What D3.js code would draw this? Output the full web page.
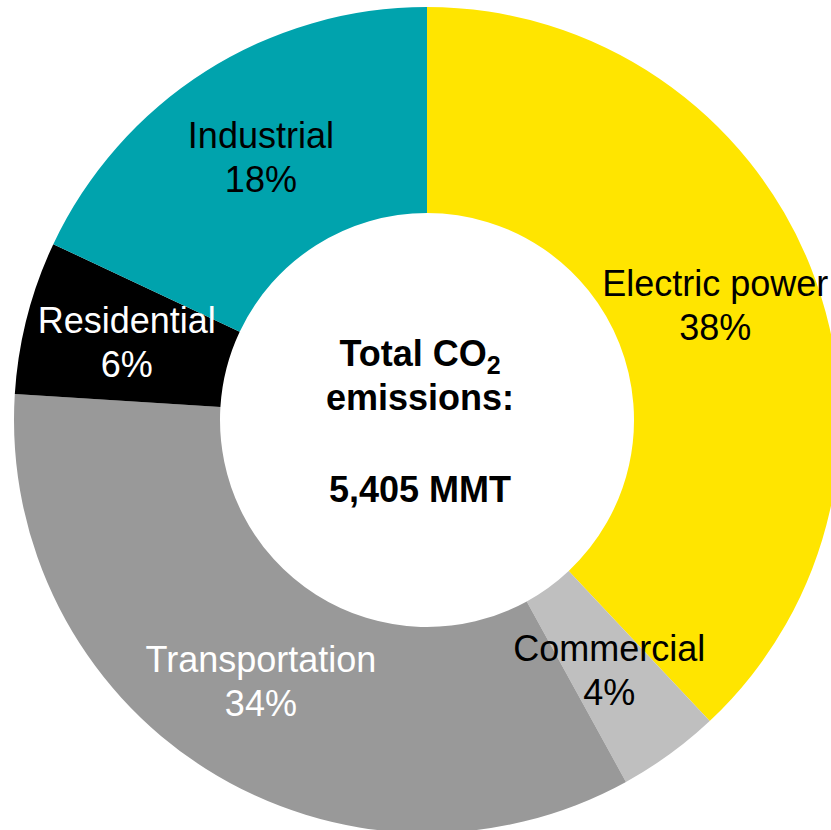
<!DOCTYPE html>
<html>
<head>
    <meta charset="UTF-8">
    <title>CO2 emissions by sector</title>
    <script src="https://d3js.org/d3.v7.min.js"></script>
    <style>
        *{
            padding:0;
            margin:0;
        }
        body{
            background:#fff;
            overflow:hidden;
        }
        text{
            font-family: "Liberation Sans", Arial, sans-serif;
        }
    </style>
</head>
<body>
    <svg id='main' width="831" height="830"></svg>
    <script>
// data, clockwise from 12 o'clock
const sectors = ["Electric power", "Commercial", "Transportation", "Residential", "Industrial"];
const shares = [38, 4, 34, 6, 18];
const colors = ["#FFE500", "#BFBFBF", "#999999", "#000000", "#00A3AD"];
const labelColors = ["#000", "#000", "#fff", "#fff", "#000"];
const totalMMT = "5,405 MMT";

const svg = d3.select("#main"),
    cx = 427,
    cy = 420,
    outerR = 413,
    innerR = 207;

const data = sectors.map((s, i) => ({ name: s, value: shares[i], color: colors[i], tc: labelColors[i] }));

const pie = d3.pie()
    .value(d => d.value)
    .sort(null);

const arc = d3.arc()
    .innerRadius(innerR)
    .outerRadius(outerR);

const arcs = pie(data);

const g = svg.append("g")
    .attr("transform", `translate(${cx},${cy})`);

// slices first
g.append("g")
    .selectAll("path")
    .data(arcs)
    .enter().append("path")
    .attr("d", arc)
    .attr("fill", d => d.data.color);

// then two-line labels at the centroid of each slice, on top
const lbl = g.append("g")
    .selectAll("text")
    .data(arcs)
    .enter().append("text")
    .attr("transform", d => `translate(${arc.centroid(d)})`)
    .attr("text-anchor", "middle")
    .attr("font-size", "36px")
    .attr("fill", d => d.data.tc);

lbl.append("tspan")
    .attr("x", 0)
    .attr("y", -10)
    .text(d => d.data.name);

lbl.append("tspan")
    .attr("x", 0)
    .attr("y", 34)
    .text(d => d.data.value + "%");

// centre text
const center = g.append("g")
    .attr("transform", "translate(-7,0)")
    .attr("font-weight", "bold")
    .attr("font-size", "36px")
    .attr("text-anchor", "middle");

const t1 = center.append("text").attr("y", -54);
t1.append("tspan").text("Total CO");
t1.append("tspan")
    .attr("font-size", "25px")
    .attr("dy", 8)
    .text("2");

center.append("text")
    .attr("y", -10)
    .text("emissions:");

center.append("text")
    .attr("y", 82)
    .text(totalMMT);
    </script>
</body>
</html>
